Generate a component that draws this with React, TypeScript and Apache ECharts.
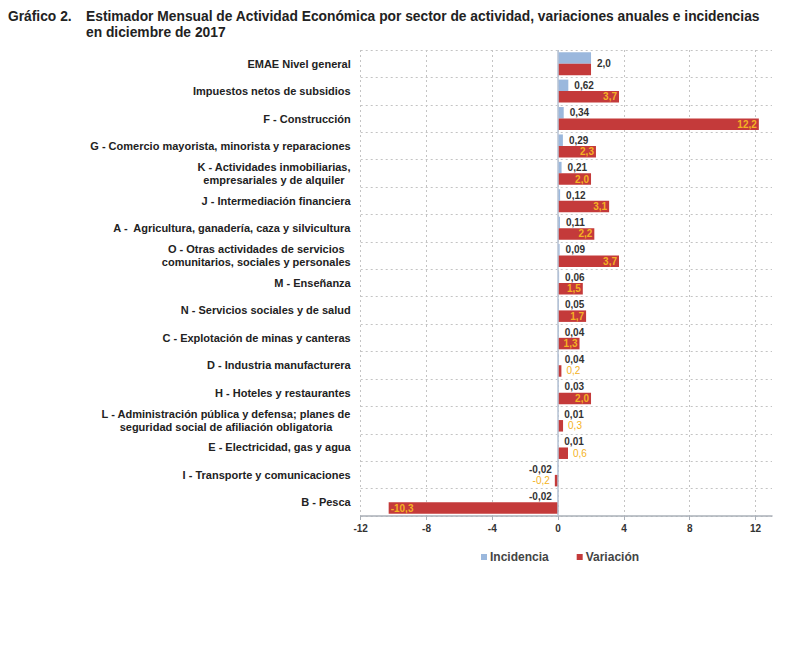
import React, { useEffect, useRef } from "react";
import * as echarts from "echarts";

const categories: string[] = [
  "EMAE Nivel general",
  "Impuestos netos de subsidios",
  "F - Construcción",
  "G - Comercio mayorista, minorista y reparaciones",
  "K - Actividades inmobiliarias,\nempresariales y de alquiler",
  "J - Intermediación financiera",
  "A -  Agricultura, ganadería, caza y silvicultura",
  "O - Otras actividades de servicios\ncomunitarios, sociales y personales",
  "M - Enseñanza",
  "N - Servicios sociales y de salud",
  "C - Explotación de minas y canteras",
  "D - Industria manufacturera",
  "H - Hoteles y restaurantes",
  "L - Administración pública y defensa; planes de\nseguridad social de afiliación obligatoria",
  "E - Electricidad, gas y agua",
  "I - Transporte y comunicaciones",
  "B - Pesca",
];

const incidencia: number[] = [
  2.0, 0.62, 0.34, 0.29, 0.21, 0.12, 0.11, 0.09, 0.06, 0.05, 0.04, 0.04, 0.03,
  0.01, 0.01, -0.02, -0.02,
];

const variacion: number[] = [
  2.0, 3.7, 12.2, 2.3, 2.0, 3.1, 2.2, 3.7, 1.5, 1.7, 1.3, 0.2, 2.0, 0.3, 0.6,
  -0.2, -10.3,
];

const seriesNames = ["Incidencia", "Variación"];

const titleLead = "Gráfico 2.";
const titleText =
  "Estimador Mensual de Actividad Económica por sector de actividad, variaciones anuales e incidencias\nen diciembre de 2017";

const BLUE = "#9bb8dd";
const RED = "#c43a3a";
const GOLD = "#f4b223";
const GRIDC = "#c4c4c4";
const FONT = '"Liberation Sans", Arial, sans-serif';

const fmtInc = (v: number) =>
  (Math.abs(v) >= 1 ? v.toFixed(1) : v.toFixed(2)).replace(".", ",");
const fmtVar = (v: number) => v.toFixed(1).replace(".", ",");

export default function App() {
  const ref = useRef<HTMLDivElement>(null);

  useEffect(() => {
    if (!ref.current) return;
    const chart = echarts.init(ref.current, null, { renderer: "svg" });

    const titleStyle = {
      fontFamily: FONT,
      fontSize: 13.8,
      fontWeight: "bold",
      color: "#222",
      lineHeight: 16,
    };

    const option: any = {
      animation: false,
      backgroundColor: "#ffffff",
      textStyle: { fontFamily: FONT },
      title: [
        { text: titleLead, left: 3, top: 3, textStyle: titleStyle },
        { text: titleText, left: 81, top: 3, textStyle: titleStyle },
      ],
      legend: {
        data: seriesNames,
        left: 476,
        top: 546,
        icon: "rect",
        itemWidth: 6,
        itemHeight: 6,
        itemGap: 28,
        textStyle: {
          fontFamily: FONT,
          fontSize: 12,
          fontWeight: "bold",
          color: "#444",
          padding: [0, 0, 0, -2],
        },
      },
      grid: {
        left: 360.7,
        right: 28,
        top: 50,
        bottom: 142,
        containLabel: false,
      },
      xAxis: {
        type: "value",
        min: -12,
        max: 13,
        interval: 4,
        axisLine: { show: true, lineStyle: { color: "#aab0b8", width: 1.5 } },
        axisTick: { show: true, length: 4, lineStyle: { color: "#aab0b8" } },
        axisLabel: {
          showMaxLabel: false,
          margin: 7,
          fontFamily: FONT,
          fontSize: 10,
          fontWeight: "bold",
          color: "#333",
          formatter: (v: number) => (v > 12 ? "" : String(v)),
        },
        splitLine: {
          show: true,
          lineStyle: {
            color: [GRIDC, GRIDC, GRIDC, GRIDC, GRIDC, GRIDC, GRIDC, "rgba(0,0,0,0)"],
            type: [2, 3],
            width: 1,
          },
        },
      },
      yAxis: {
        type: "category",
        inverse: true,
        data: categories,
        axisLine: { show: false, onZero: false },
        axisTick: { show: false },
        axisLabel: {
          margin: 10,
          fontFamily: FONT,
          fontSize: 11,
          fontWeight: "bold",
          color: "#222",
          lineHeight: 13,
          formatter: (v: string) =>
            v
              .split("\n")
              .map((l) => `{c|${l}}`)
              .join("\n"),
          rich: {
            c: {
              align: "center",
              fontFamily: FONT,
              fontSize: 11,
              fontWeight: "bold",
              color: "#222",
              lineHeight: 13,
            },
          },
        },
        splitLine: {
          show: true,
          lineStyle: { color: GRIDC, type: [2, 3], width: 1 },
        },
      },
      series: [
        {
          name: seriesNames[0],
          type: "bar",
          barWidth: 11.5,
          barGap: "0%",
          itemStyle: { color: BLUE },
          data: incidencia.map((v, i) => ({
            value: v,
            label: {
              position: v < 0 ? "left" : "right",
              offset: i === 0 ? [0, 6] : [0, 0],
            },
          })),
          label: {
            show: true,
            distance: 6,
            fontFamily: FONT,
            fontSize: 10,
            fontWeight: "bold",
            color: "#333",
            formatter: (p: any) => fmtInc(p.value),
          },
          markLine: {
            silent: true,
            symbol: "none",
            label: { show: false },
            lineStyle: { color: "#b7c3d4", type: "solid", width: 1.5 },
            data: [{ xAxis: 0 }],
          },
        },
        {
          name: seriesNames[1],
          type: "bar",
          barWidth: 11.5,
          barGap: "0%",
          itemStyle: { color: RED },
          data: variacion.map((v, i) => {
            const small = Math.abs(v) < 1;
            return {
              value: v,
              label: {
                show: i !== 0,
                position: small
                  ? v < 0
                    ? "left"
                    : "right"
                  : v < 0
                  ? "insideLeft"
                  : "insideRight",
                distance: small ? 5 : 2,
                fontWeight: small ? "normal" : "bold",
              },
            };
          }),
          label: {
            show: true,
            fontFamily: FONT,
            fontSize: 10,
            fontWeight: "bold",
            color: GOLD,
            formatter: (p: any) => fmtVar(p.value),
          },
        },
      ],
    };

    chart.setOption(option);
    return () => chart.dispose();
  }, []);

  return (
    <div
      ref={ref}
      style={{ position: "fixed", left: 0, top: 0, width: 800, height: 658 }}
    />
  );
}
